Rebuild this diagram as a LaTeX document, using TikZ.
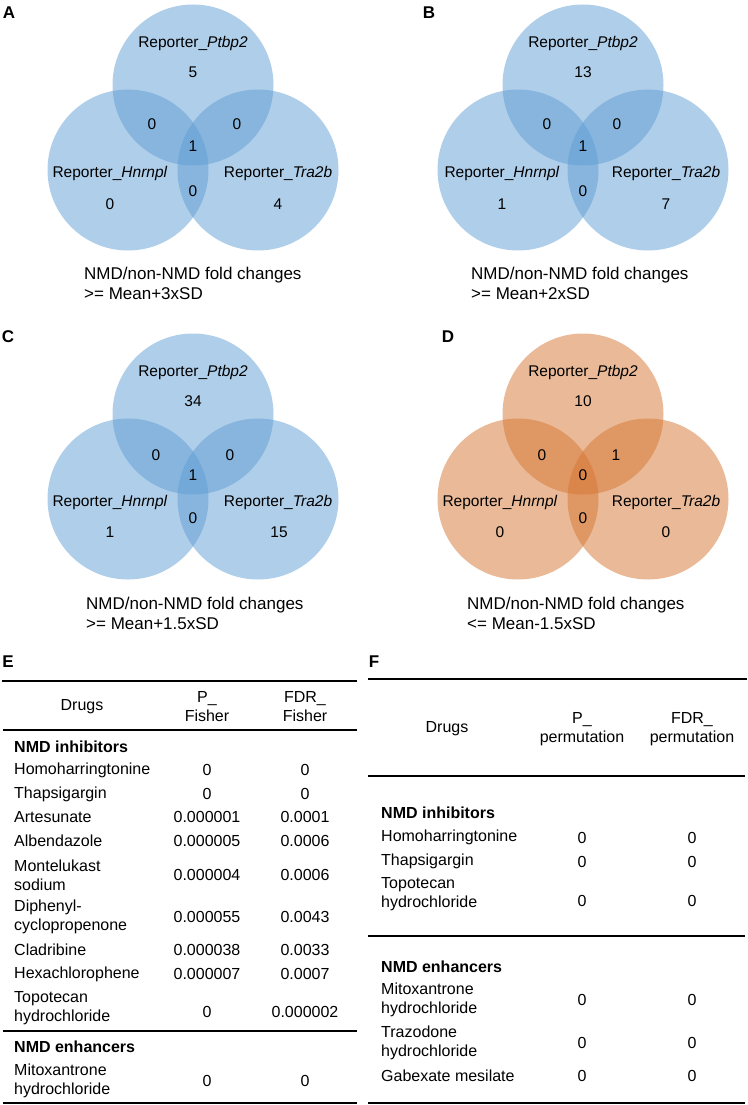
\documentclass[tikz,border=0pt]{standalone}
\usepackage{fontspec}
\setmainfont{Liberation Sans}
\usepackage{xcolor}
\definecolor{vennblue}{RGB}{95,157,211}
\definecolor{vennorange}{RGB}{213,117,49}

\begin{document}
\begin{tikzpicture}[x=1pt,y=-1pt,
  blob/.style={fill opacity=0.5},
  lab/.style={inner sep=0pt,font=\fontsize{15.5}{18}\selectfont},
  foldtxt/.style={inner sep=0pt,anchor=west,align=left,font=\fontsize{17}{20}\selectfont},
  panel/.style={inner sep=0pt,font=\fontsize{17}{20}\selectfont\bfseries},
  cell/.style={inner sep=0pt,align=left,font=\fontsize{16}{19}\selectfont},
  drug/.style={cell,anchor=west},
  group/.style={drug,font=\fontsize{16}{19}\selectfont\bfseries},
  num/.style={cell,align=center},
  rule/.style={line width=1.4pt}]
\useasboundingbox (0,0) rectangle (747,1105);

% A
\begin{scope}[shift={(193,85)}]
\fill[vennblue,blob] (0,0) circle (80.5pt);
\fill[vennblue,blob] (-65,85) circle (80.5pt);
\fill[vennblue,blob] (65,85) circle (80.5pt);
\node[lab] (aPtbp2) at (0,-42) {Reporter\_\textit{Ptbp2}};
\node[lab] (aP) at (0,-13) {5};
\node[lab] (aPH) at (-41,39) {0};
\node[lab] (aPT) at (44,39) {0};
\node[lab] (aPHT) at (0,61) {1};
\node[lab] (aHT) at (0,106) {0};
\node[lab] (aHnrnpl) at (-83,88) {Reporter\_\textit{Hnrnpl}};
\node[lab] (aH) at (-83,119) {0};
\node[lab] (aTra2b) at (85,88) {Reporter\_\textit{Tra2b}};
\node[lab] (aT) at (85,119) {4};
\end{scope}
\node[panel] (A) at (9,13) {A};
\node[foldtxt] (aFold) at (84,283) {NMD/non-NMD fold changes\\>= Mean+3xSD};

% B
\begin{scope}[shift={(583,85)}]
\fill[vennblue,blob] (0,0) circle (80.5pt);
\fill[vennblue,blob] (-65,85) circle (80.5pt);
\fill[vennblue,blob] (65,85) circle (80.5pt);
\node[lab] (bPtbp2) at (0,-42) {Reporter\_\textit{Ptbp2}};
\node[lab] (bP) at (0,-13) {13};
\node[lab] (bPH) at (-36,39) {0};
\node[lab] (bPT) at (34,39) {0};
\node[lab] (bPHT) at (0,61) {1};
\node[lab] (bHT) at (0,106) {0};
\node[lab] (bHnrnpl) at (-81,88) {Reporter\_\textit{Hnrnpl}};
\node[lab] (bH) at (-81,119) {1};
\node[lab] (bTra2b) at (83,88) {Reporter\_\textit{Tra2b}};
\node[lab] (bT) at (83,119) {7};
\end{scope}
\node[panel] (B) at (429,13) {B};
\node[foldtxt] (bFold) at (471,283) {NMD/non-NMD fold changes\\>= Mean+2xSD};

% C
\begin{scope}[shift={(193,414)}]
\fill[vennblue,blob] (0,0) circle (80.5pt);
\fill[vennblue,blob] (-65,85) circle (80.5pt);
\fill[vennblue,blob] (65,85) circle (80.5pt);
\node[lab] (cPtbp2) at (0,-42) {Reporter\_\textit{Ptbp2}};
\node[lab] (cP) at (0,-13) {34};
\node[lab] (cPH) at (-37,41) {0};
\node[lab] (cPT) at (37,41) {0};
\node[lab] (cPHT) at (0,61) {1};
\node[lab] (cHT) at (0,104) {0};
\node[lab] (cHnrnpl) at (-83,88) {Reporter\_\textit{Hnrnpl}};
\node[lab] (cH) at (-83,118) {1};
\node[lab] (cTra2b) at (85,88) {Reporter\_\textit{Tra2b}};
\node[lab] (cT) at (86,118) {15};
\end{scope}
\node[panel] (C) at (8,337) {C};
\node[foldtxt] (cFold) at (86,613) {NMD/non-NMD fold changes\\>= Mean+1.5xSD};

% D
\begin{scope}[shift={(583,414)}]
\fill[vennorange,blob] (0,0) circle (80.5pt);
\fill[vennorange,blob] (-65,85) circle (80.5pt);
\fill[vennorange,blob] (65,85) circle (80.5pt);
\node[lab] (dPtbp2) at (0,-42) {Reporter\_\textit{Ptbp2}};
\node[lab] (dP) at (0,-13) {10};
\node[lab] (dPH) at (-41,41) {0};
\node[lab] (dPT) at (33,41) {1};
\node[lab] (dPHT) at (0,61) {0};
\node[lab] (dHT) at (0,104) {0};
\node[lab] (dHnrnpl) at (-83,88) {Reporter\_\textit{Hnrnpl}};
\node[lab] (dH) at (-83,118) {0};
\node[lab] (dTra2b) at (83,88) {Reporter\_\textit{Tra2b}};
\node[lab] (dT) at (83,118) {0};
\end{scope}
\node[panel] (D) at (448,337) {D};
\node[foldtxt] (dFold) at (467,613) {NMD/non-NMD fold changes\\<= Mean-1.5xSD};

% E
\node[panel] (E) at (8,662) {E};
\draw[rule] (2,681) -- (357,681);
\node[cell] (eDrugs) at (82,707) {Drugs};
\node[num] (ePh) at (207,707) {P\_\\Fisher};
\node[num] (eFh) at (305,707) {FDR\_\\Fisher};
\draw[rule] (3,730) -- (357,730);
\node[group] (eInh) at (14,747) {NMD inhibitors};
\node[drug] (eHomo) at (14,770) {Homoharringtonine};
\node[num] (eHomoP) at (207,770) {0};
\node[num] (eHomoF) at (305,770) {0};
\node[drug] (eThap) at (14,794) {Thapsigargin};
\node[num] (eThapP) at (207,794) {0};
\node[num] (eThapF) at (305,794) {0};
\node[drug] (eArte) at (14,817) {Artesunate};
\node[num] (eArteP) at (207,817) {0.000001};
\node[num] (eArteF) at (305,817) {0.0001};
\node[drug] (eAlbe) at (14,841) {Albendazole};
\node[num] (eAlbeP) at (207,841) {0.000005};
\node[num] (eAlbeF) at (305,841) {0.0006};
\node[drug] (eMont) at (14,875) {Montelukast\\sodium};
\node[num] (eMontP) at (207,875) {0.000004};
\node[num] (eMontF) at (305,875) {0.0006};
\node[drug] (eDiph) at (14,917) {Diphenyl-\\cyclopropenone};
\node[num] (eDiphP) at (207,917) {0.000055};
\node[num] (eDiphF) at (305,917) {0.0043};
\node[drug] (eClad) at (14,950) {Cladribine};
\node[num] (eCladP) at (207,950) {0.000038};
\node[num] (eCladF) at (305,950) {0.0033};
\node[drug] (eHexa) at (14,974) {Hexachlorophene};
\node[num] (eHexaP) at (207,974) {0.000007};
\node[num] (eHexaF) at (305,974) {0.0007};
\node[drug] (eTopo) at (14,1008) {Topotecan\\hydrochloride};
\node[num] (eTopoP) at (207,1012) {0};
\node[num] (eTopoF) at (305,1012) {0.000002};
\draw[rule] (3,1031) -- (357,1031);
\node[group] (eEnh) at (14,1047) {NMD enhancers};
\node[drug] (eMito) at (14,1081) {Mitoxantrone\\hydrochloride};
\node[num] (eMitoP) at (207,1081) {0};
\node[num] (eMitoF) at (305,1081) {0};
\draw[rule] (3,1103) -- (357,1103);

% F
\node[panel] (F) at (374,662) {F};
\draw[rule] (368,679) -- (747,679);
\node[cell] (fDrugs) at (447,729) {Drugs};
\node[num] (fPh) at (582,729) {P\_\\permutation};
\node[num] (fFh) at (692,729) {FDR\_\\permutation};
\draw[rule] (368,776) -- (745,776);
\node[group] (fInh) at (381,813) {NMD inhibitors};
\node[drug] (fHomo) at (381,837) {Homoharringtonine};
\node[num] (fHomoP) at (582,838) {0};
\node[num] (fHomoF) at (692,838) {0};
\node[drug] (fThap) at (381,861) {Thapsigargin};
\node[num] (fThapP) at (582,862) {0};
\node[num] (fThapF) at (692,862) {0};
\node[drug] (fTopo) at (381,894) {Topotecan\\hydrochloride};
\node[num] (fTopoP) at (582,901) {0};
\node[num] (fTopoF) at (692,901) {0};
\draw[rule] (368,936) -- (745,936);
\node[group] (fEnh) at (381,967) {NMD enhancers};
\node[drug] (fMito) at (381,1000) {Mitoxantrone\\hydrochloride};
\node[num] (fMitoP) at (582,1000) {0};
\node[num] (fMitoF) at (692,1000) {0};
\node[drug] (fTraz) at (381,1043) {Trazodone\\hydrochloride};
\node[num] (fTrazP) at (582,1043) {0};
\node[num] (fTrazF) at (692,1043) {0};
\node[drug] (fGabe) at (381,1076) {Gabexate mesilate};
\node[num] (fGabeP) at (582,1076) {0};
\node[num] (fGabeF) at (692,1076) {0};
\draw[rule] (368,1103) -- (745,1103);
\end{tikzpicture}
\end{document}
